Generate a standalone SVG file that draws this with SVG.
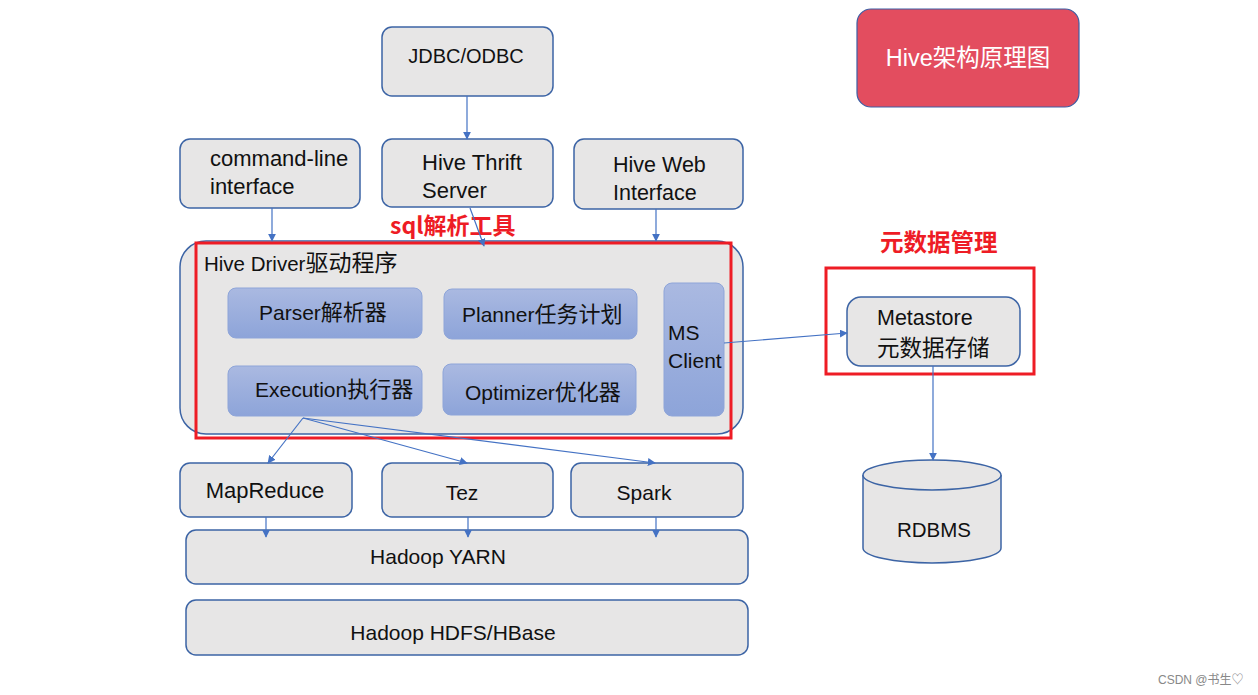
<svg xmlns="http://www.w3.org/2000/svg" width="1258" height="695" viewBox="0 0 1258 695">
<defs>
<linearGradient id="blueg" x1="0" y1="0" x2="0" y2="1">
<stop offset="0" stop-color="#AAB9E1"/>
<stop offset="1" stop-color="#8DA4D9"/>
</linearGradient>
<marker id="ah" viewBox="0 0 10 10" refX="9" refY="5" markerWidth="8" markerHeight="8" markerUnits="userSpaceOnUse" orient="auto">
<path d="M0,0 L10,5 L0,10 z" fill="#4472C4"/>
</marker>
</defs>
<style>
.box{fill:#E7E6E6;stroke:#3C64A5;stroke-width:1.5}
.blue{fill:url(#blueg);stroke:#8EA5D9;stroke-width:1}
.t{font-family:"Liberation Sans","Noto Sans CJK SC",sans-serif;font-size:20px;fill:#111}
.l{font-size:21px}
.z{font-family:"Noto Sans CJK SC",sans-serif;font-size:22px}
.c{text-anchor:middle}
.red{fill:none;stroke:#EE1C25;stroke-width:3}
.rt{font-family:"Noto Sans CJK SC","Liberation Sans",sans-serif;font-weight:bold;fill:#EE1C25}
.conn line{stroke:#4472C4;stroke-width:1.2;marker-end:url(#ah)}
</style>
<rect width="1258" height="695" fill="#FFFFFF"/>

<g id="title">
<rect x="857" y="9" width="222" height="98" rx="14" fill="#E34D5F" stroke="#3C5FA5" stroke-width="1.2"/>
<text x="968" y="66" class="c" font-family="Liberation Sans,Noto Sans CJK SC,sans-serif" font-size="23.5" fill="#FFFFFF">Hive架构原理图</text>
</g>

<g id="jdbc">
<rect class="box" x="382" y="27" width="171" height="69" rx="10"/>
<text class="t c" x="466" y="63" font-size="19.5">JDBC/ODBC</text>
</g>
<g id="cli">
<rect class="box" x="180" y="139" width="180" height="69" rx="10"/>
<text class="t" x="210" y="166" style="font-size:22px">command-line</text>
<text class="t" x="210" y="194" style="font-size:22px">interface</text>
</g>
<g id="thrift">
<rect class="box" x="382" y="139" width="171" height="68" rx="10"/>
<text class="t" x="422" y="170" style="font-size:22px">Hive Thrift</text>
<text class="t" x="422" y="198" style="font-size:22px">Server</text>
</g>
<g id="web">
<rect class="box" x="574" y="139" width="169" height="70" rx="10"/>
<text class="t" x="613" y="172" style="font-size:21.5px">Hive Web</text>
<text class="t" x="613" y="200" style="font-size:21.5px">Interface</text>
</g>

<g id="driver">
<rect class="box" x="180" y="241" width="563" height="193" rx="26"/>
<text class="t" x="204" y="271" style="font-size:20.5px">Hive Driver<tspan class="z" style="font-size:23px">驱动程序</tspan></text>
</g>
<g id="parser">
<rect class="blue" x="228" y="288" width="194" height="50" rx="8"/>
<text class="t l" x="259" y="320">Parser<tspan class="z">解析器</tspan></text>
</g>
<g id="planner">
<rect class="blue" x="444" y="289" width="193" height="50" rx="8"/>
<text class="t l" x="462" y="322">Planner<tspan class="z">任务计划</tspan></text>
</g>
<g id="execution">
<rect class="blue" x="228" y="366" width="194" height="50" rx="8"/>
<text class="t l" x="255" y="397">Execution<tspan class="z">执行器</tspan></text>
</g>
<g id="optimizer">
<rect class="blue" x="443" y="364" width="193" height="51" rx="8"/>
<text class="t l" x="465" y="400">Optimizer<tspan class="z">优化器</tspan></text>
</g>
<g id="msclient">
<rect class="blue" x="664" y="283" width="60" height="133" rx="8"/>
<text class="t l" x="668" y="340">MS</text>
<text class="t l" x="668" y="368">Client</text>
</g>

<g id="sqltool">
<rect class="red" x="196" y="243" width="535" height="195"/>
<text class="rt" x="390" y="234" font-size="23">sql解析工具</text>
</g>

<g id="metamgmt">
<rect class="red" x="826" y="268" width="208" height="106"/>
<text class="rt" x="880" y="251" font-size="23.5">元数据管理</text>
</g>
<g id="metastore">
<rect class="box" x="847" y="297" width="173" height="69" rx="14"/>
<text class="t" x="877" y="325" style="font-size:21.5px">Metastore</text>
<text class="t z" x="877" y="356" style="font-size:22.5px">元数据存储</text>
</g>

<g id="rdbms">
<path class="box" d="M863,475 L863,548 A69,15 0 0 0 1001,548 L1001,475"/>
<ellipse class="box" cx="932" cy="475" rx="69" ry="15"/>
<text class="t c" x="934" y="537" style="font-size:20.5px">RDBMS</text>
</g>

<g id="mapreduce">
<rect class="box" x="180" y="463" width="172" height="54" rx="10"/>
<text class="t c" x="265" y="498" style="font-size:22px">MapReduce</text>
</g>
<g id="tez">
<rect class="box" x="382" y="463" width="171" height="54" rx="10"/>
<text class="t c" x="462" y="500" style="font-size:21px">Tez</text>
</g>
<g id="spark">
<rect class="box" x="571" y="463" width="172" height="54" rx="10"/>
<text class="t c" x="644" y="500" style="font-size:21px">Spark</text>
</g>
<g id="yarn">
<rect class="box" x="186" y="530" width="562" height="54" rx="10"/>
<text class="t c" x="438" y="564" style="font-size:21px">Hadoop YARN</text>
</g>
<g id="hdfs">
<rect class="box" x="186" y="600" width="562" height="55" rx="10"/>
<text class="t c" x="453" y="640" style="font-size:21px">Hadoop HDFS/HBase</text>
</g>

<g id="connectors" class="conn">
<line x1="467" y1="96" x2="467" y2="139"/>
<line x1="272" y1="208" x2="272" y2="241"/>
<line x1="470" y1="208" x2="484" y2="246"/>
<line x1="656" y1="209" x2="656" y2="241"/>
<line x1="724" y1="343" x2="847" y2="333"/>
<line x1="303" y1="418" x2="268" y2="463"/>
<line x1="303" y1="418" x2="467" y2="463"/>
<line x1="303" y1="418" x2="655" y2="463"/>
<line x1="266" y1="517" x2="266" y2="537"/>
<line x1="468" y1="517" x2="468" y2="537"/>
<line x1="656" y1="517" x2="656" y2="537"/>
<line x1="933" y1="366" x2="933" y2="460"/>
</g>

<text x="1158" y="684" font-family="Liberation Sans,Noto Sans CJK SC,sans-serif" font-size="12" fill="#888">CSDN @书生♡</text>
</svg>
